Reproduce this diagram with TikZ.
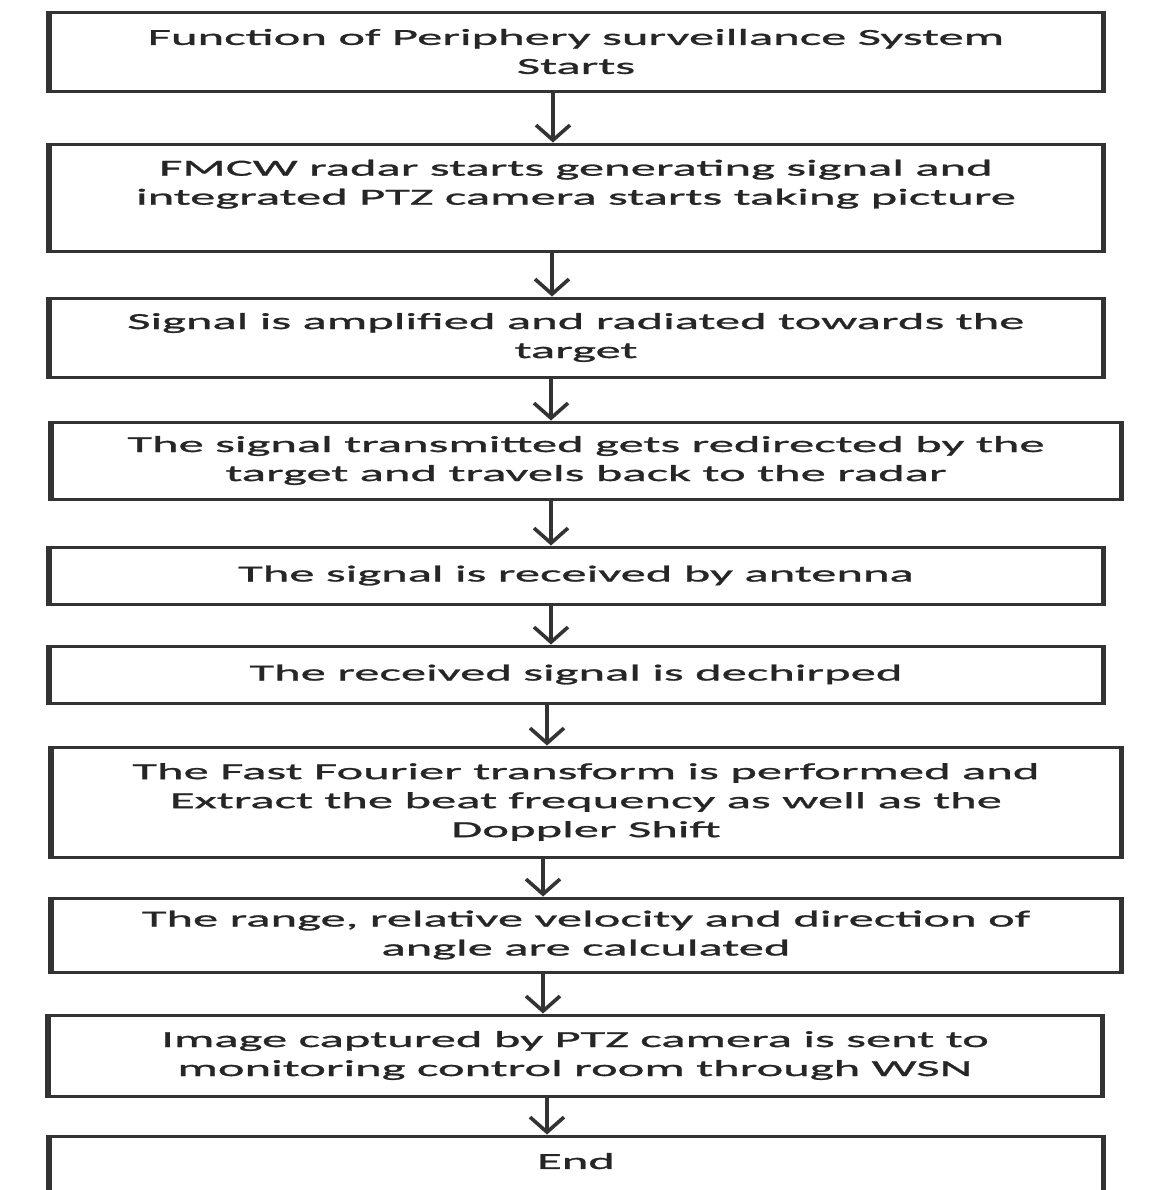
\documentclass[tikz,border=0pt]{standalone}
\usepackage{fontspec}
\setmainfont{Carlito}[FakeStretch=2.2, FakeBold=1.2]
\usetikzlibrary{arrows.meta}

\begin{document}
\begin{tikzpicture}[x=0.5pt, y=-0.5pt,
    stepbox/.style={draw=black!80, line width=1.5pt, align=center, inner sep=0pt,
      font=\fontsize{11.5}{14.5}\selectfont, text=black!85},
    narrowbox/.style={stepbox, minimum width=526pt},
    widebox/.style={stepbox, minimum width=534pt},
    sideline/.style={draw=black!80, line width=2.5pt},
    flowarrow/.style={draw=black!80, line width=2.4pt,
      -{Straight Barb[length=7.5pt, width=17pt, line width=1.8pt]}}]
  \useasboundingbox (0,0) rectangle (1159,1190);
  \clip (0,0) rectangle (1159,1190);

  \node[narrowbox, minimum height=39.5pt] (b1) at (576,51.5)
    {Function of Periphery surveillance System\\Starts};
  \node[narrowbox, minimum height=53.5pt, text depth=15.3pt] (b2) at (576,197.5)
    {FMCW radar starts generating signal and\\integrated PTZ camera starts taking picture};
  \node[narrowbox, minimum height=39.5pt] (b3) at (576,337.5)
    {Signal is amplified and radiated towards the\\target};
  \node[widebox, minimum height=38.5pt] (b4) at (586,460.5)
    {The signal transmitted gets redirected by the\\target and travels back to the radar};
  \node[narrowbox, minimum height=28.5pt] (b5) at (576,575.5)
    {The signal is received by antenna};
  \node[narrowbox, minimum height=28.5pt] (b6) at (576,674.5)
    {The received signal is dechirped};
  \node[widebox, minimum height=55pt] (b7) at (586,802)
    {The Fast Fourier transform is performed and\\Extract the beat frequency as well as the\\Doppler Shift};
  \node[widebox, minimum height=37pt] (b8) at (586,935)
    {The range, relative velocity and direction of\\angle are calculated};
  \node[narrowbox, minimum height=40.5pt] (b9) at (575,1055.5)
    {Image captured by PTZ camera is sent to\\monitoring control room through WSN};
  \node[narrowbox, minimum height=32pt, text depth=7pt] (b10) at (576,1168)
    {End};

  \foreach \i in {1,...,10}
    \draw[sideline] (b\i.north west) -- (b\i.south west)
      (b\i.north east) -- (b\i.south east);

  \foreach \a/\b/\x in {1/2/553, 2/3/552, 3/4/551, 4/5/551, 5/6/551,
      6/7/547, 7/8/543, 8/9/543, 9/10/547}
    \draw[flowarrow] (b\a.south -| \x,0) -- (b\b.north -| \x,0);
\end{tikzpicture}
\end{document}
